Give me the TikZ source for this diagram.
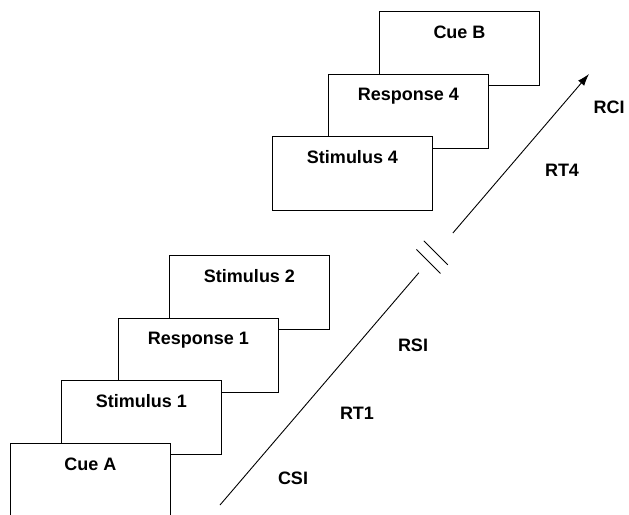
\documentclass[tikz,border=0pt]{standalone}
\usepackage{fontspec}
\setmainfont{Liberation Sans}
\usetikzlibrary{arrows.meta,calc}

\tikzset{
  panel/.style={draw, fill=white, line width=1pt, inner sep=0pt,
    minimum width=160pt, minimum height=74pt, anchor=north west,
    label={[font=\bfseries\fontsize{18}{20}\selectfont, anchor=north, yshift=-11pt]north:#1}},
  tag/.style={font=\bfseries\fontsize{18}{20}\selectfont},
  track/.style={line width=0.9pt}
}

\begin{document}
\begin{tikzpicture}[x=1pt, y=-1pt]
    \useasboundingbox (0,0) rectangle (629,514);
    % first trial
    \node[panel=Stimulus 2] (stimB) at (169,255) {};
    \node[panel=Response 1] (respA) at (118,318) {};
    \node[panel=Stimulus 1] (stimA) at (61,380) {};
    \node[panel=Cue A] (cueA) at (10,443) {};
    % last trial
    \node[panel=Cue B] (cueB) at (379,11) {};
    \node[panel=Response 4] (respD) at (328,74) {};
    \node[panel=Stimulus 4] (stimD) at (272,136) {};
    % time axis
    \coordinate (t0) at (220,505);
    \coordinate (t1) at (589,74);
    \coordinate (gapA) at ($(t0)!0.539!(t1)$);
    \coordinate (gapB) at ($(t0)!0.631!(t1)$);
    \coordinate (brk1) at ($(t0)!0.585!(t1)$);
    \coordinate (brk2) at ($(t0)!0.565!(t1)$);
    \draw[track] (t0) -- (gapA);
    \draw[track, -{Latex[length=12pt,width=8pt]}] (gapB) -- (t1);
    \draw[track] (brk1) +(-12,-12) -- +(12,12);
    \draw[track] (brk2) +(-12,-12) -- +(12,12);
    % intervals
    \node[tag] (csi) at (293,478) {CSI};
    \node[tag] (rtA) at (357,413) {RT1};
    \node[tag] (rsi) at (413,345) {RSI};
    \node[tag] (rtD) at (562,170) {RT4};
    \node[tag] (rci) at (609,107) {RCI};
\end{tikzpicture}
\end{document}
